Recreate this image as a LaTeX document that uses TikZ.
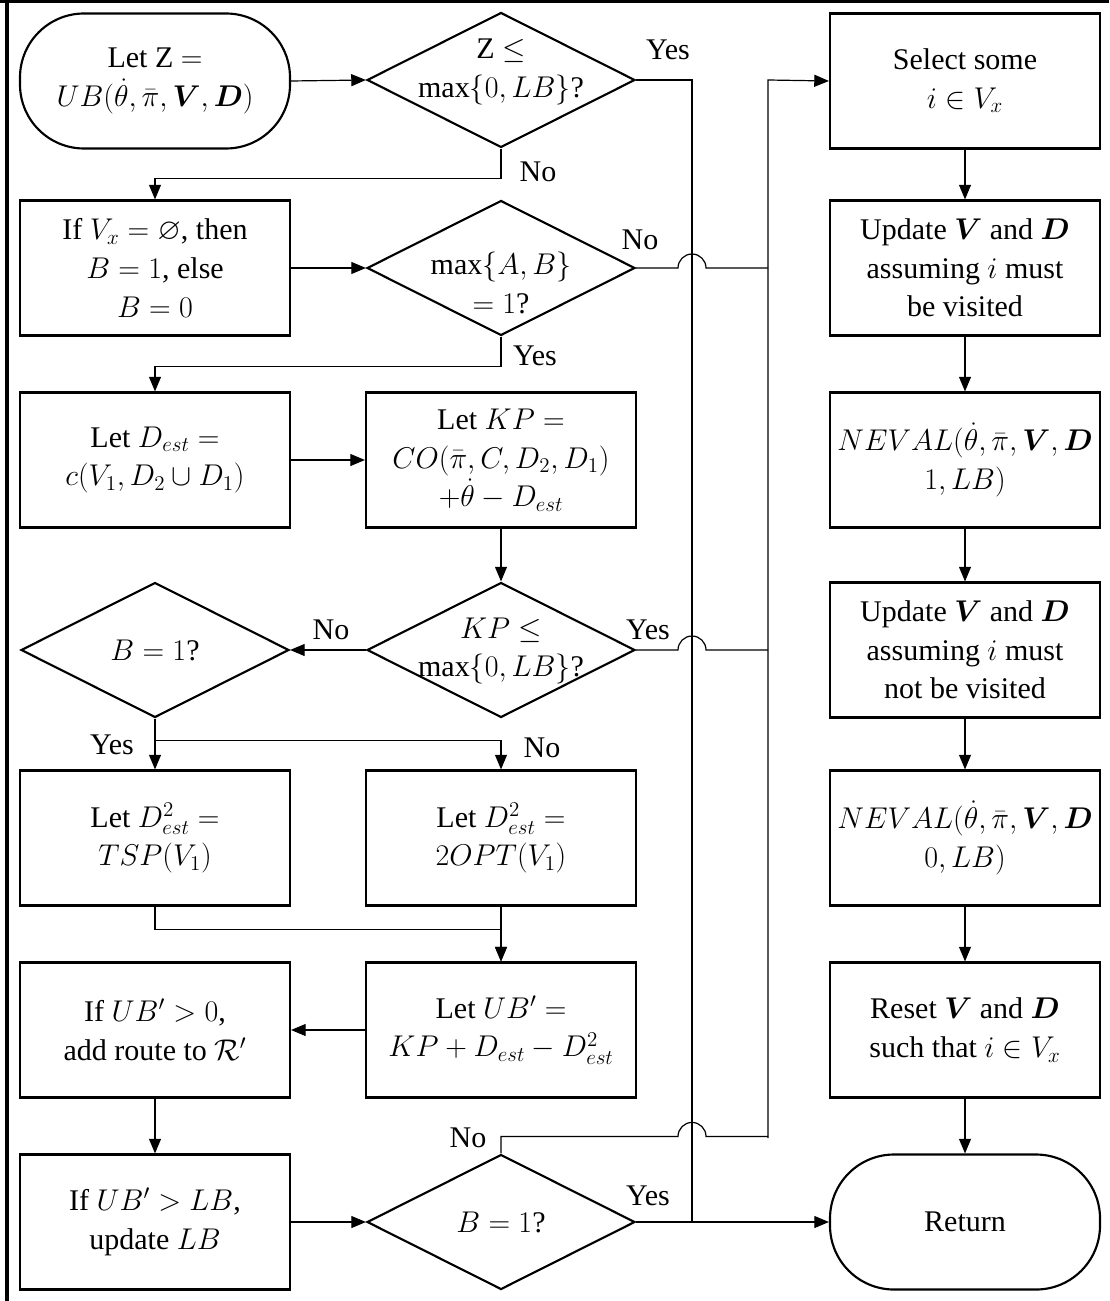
\RequirePackage{fix-cm}
\documentclass[tikz,border=0pt]{standalone}
\usepackage{amsmath,amssymb,bm}
\usepackage{fontspec}
\setmainfont{Liberation Serif}
\newfontfamily\lserif{Liberation Serif}
\usetikzlibrary{shapes.geometric,arrows.meta,calc}
\newcommand{\dtext}[2]{\makebox[0pt]{\smash{\raisebox{#1}{\begin{tabular}{@{}c@{}}#2\end{tabular}}}}}
\begin{document}
\begin{tikzpicture}[x=0.75pt,y=-0.75pt,
  every node/.style={font=\lserif\fontsize{22.5}{29}\selectfont},
  box/.style={draw,line width=1.6pt,minimum width=202.5pt,minimum height=101.25pt,align=center,inner sep=2pt},
  term/.style={box,rounded corners=48pt},
  decision/.style={draw,line width=1.6pt,shape=diamond,aspect=2,minimum width=201pt,minimum height=101.25pt,inner sep=0pt},
  conn/.style={line width=0.9pt},
  arr/.style={conn,-{Triangle[length=11pt,width=9pt]}},
  lbl/.style={inner sep=0pt}
]
\useasboundingbox (0,0) rectangle (1109,1301);
\draw[line width=2.3pt] (0,1.5) -- (1109,1.5);
\draw[line width=2.3pt] (7,0) -- (7,1301);

% left column
\node[term] (start) at (155,81) {Let Z $=$\\ $UB(\dot\theta,\bar\pi,\bm V,\bm D)$};
\node[box] (b2) at (155,268) {If $V_x=\varnothing$, then\\ $B=1$, else\\ $B=0$};
\node[box] (b3) at (155,460) {Let $D_{est}=$\\ $c(V_1,D_2\cup D_1)$};
\node[decision] (d4) at (155,650) {\makebox[0pt]{$B=1$?}};
\node[box] (b5) at (155,838) {Let $D^2_{est}=$\\ $TSP(V_1)$};
\node[box] (b8) at (155,1030) {If $UB'>0$,\\ add route to $\mathcal{R}'$};
\node[box] (b9) at (155,1222) {If $UB'>LB$,\\ update $LB$};

% middle column
\node[decision] (d1) at (501,80) {\dtext{1.5pt}{Z $\leq$\\ $\max\{0,LB\}$?}};
\node[decision] (d2) at (501,268) {\dtext{-19.5pt}{$\max\{A,B\}$\\ $=1$?}};
\node[box] (b4) at (501,460) {Let $KP=$\\ $CO(\bar\pi,C,D_2,D_1)$\\ $+\dot\theta-D_{est}$};
\node[decision] (d3) at (501,650) {\dtext{-5.5pt}{$KP\leq$\\ $\max\{0,LB\}$?}};
\node[box] (b6) at (501,838) {Let $D^2_{est}=$\\ $2OPT(V_1)$};
\node[box] (b7) at (501,1030) {Let $UB'=$\\ $KP+D_{est}-D^2_{est}$};
\node[decision] (d5) at (501,1222) {\makebox[0pt]{$B=1$?}};

% right column
\node[box] (r1) at (965,81) {Select some\\ $i\in V_x$};
\node[box] (r2) at (965,268) {Update $\bm V$ and $\bm D$\\ assuming $i$ must\\ be visited};
\node[box] (r3) at (965,460) {$NEVAL(\dot\theta,\bar\pi,\bm V,\bm D$\\ $1,LB)$};
\node[box] (r4) at (965,650) {Update $\bm V$ and $\bm D$\\ assuming $i$ must\\ not be visited};
\node[box] (r5) at (965,838) {$NEVAL(\dot\theta,\bar\pi,\bm V,\bm D$\\ $0,LB)$};
\node[box] (r6) at (965,1030) {Reset $\bm V$ and $\bm D$\\ such that $i\in V_x$};
\node[term] (ret) at (965,1222) {Return};

% labels
\node[lbl] (y1) at (668,50) {Yes};
\node[lbl] (n1) at (538,172) {No};
\node[lbl] (n2) at (640,240) {No};
\node[lbl] (y2) at (535,356) {Yes};
\node[lbl] (y3) at (648,630) {Yes};
\node[lbl] (n3) at (331,630) {No};
\node[lbl] (y4) at (112,745) {Yes};
\node[lbl] (n4) at (542,748) {No};
\node[lbl] (n5) at (468,1138) {No};
\node[lbl] (y5) at (648,1196) {Yes};

% trunk coordinates
\coordinate (ya) at (692,80);
\coordinate (yb) at (692,1222);
\coordinate (xa) at (768,80);
\coordinate (xb) at (768,1138);

% connectors
\draw[arr] (start.east) -- (d1.west);
\draw[conn] (d1.east) -- (ya) -- (yb);
\draw[arr] (d5.east) -- (ret.west);
\draw[arr] (d1.south) -- ++(0,30) -| (b2.north);
\draw[arr] (b2.east) -- (d2.west);
\draw[conn] (d2.east) -- ($(d2.east -| ya)+(-14,0)$) arc[start angle=180,end angle=0,radius=10.5pt] -- (d2.east -| xa);
\draw[arr] (xb) -- (xa) -- (r1.west);
\draw[arr] (d2.south) -- ++(0,30) -| (b3.north);
\draw[arr] (b3.east) -- (b4.west);
\draw[arr] (b4.south) -- (d3.north);
\draw[conn] (d3.east) -- ($(d3.east -| ya)+(-14,0)$) arc[start angle=180,end angle=0,radius=10.5pt] -- (d3.east -| xa);
\draw[arr] (d3.west) -- (d4.east);
\draw[conn] (d4.south) -- ++(0,22) coordinate (sp);
\draw[arr] (sp) -- (b5.north);
\draw[arr] (sp) -| (b6.north);
\draw[arr] (b5.south) -- ++(0,23) -| (b7.north);
\draw[arr] (b6.south) -- (b7.north);
\draw[arr] (b7.west) -- (b8.east);
\draw[arr] (b8.south) -- (b9.north);
\draw[arr] (b9.east) -- (d5.west);
\draw[conn] (d5.north) -- ++(0,-17) coordinate (nb) -- ($(nb -| ya)+(-14,0)$) arc[start angle=180,end angle=0,radius=10.5pt] -- (nb -| xb);

% right column flow
\draw[arr] (r1.south) -- (r2.north);
\draw[arr] (r2.south) -- (r3.north);
\draw[arr] (r3.south) -- (r4.north);
\draw[arr] (r4.south) -- (r5.north);
\draw[arr] (r5.south) -- (r6.north);
\draw[arr] (r6.south) -- (ret.north);
\end{tikzpicture}
\end{document}
